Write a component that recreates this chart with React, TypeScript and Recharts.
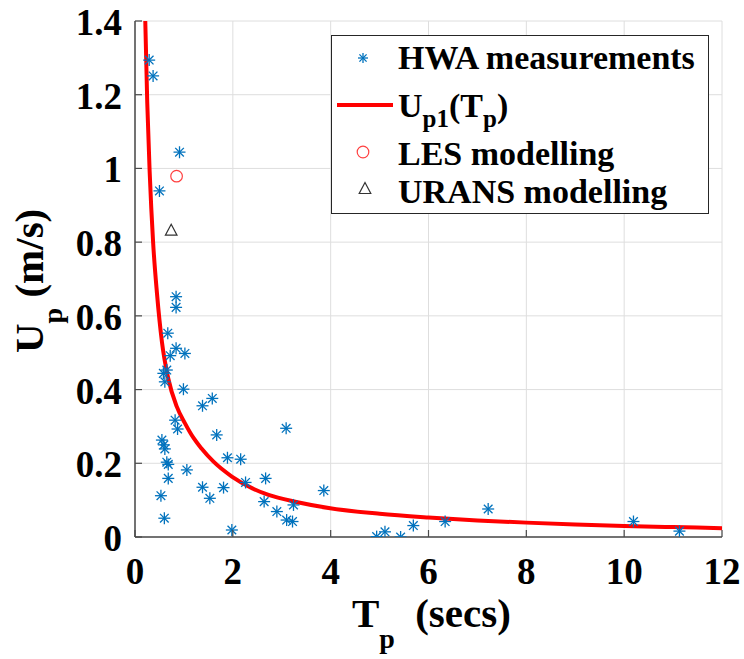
import React from 'react';
import { ComposedChart, Scatter, Line, XAxis, YAxis, CartesianGrid, Legend } from 'recharts';

const FONT = 'Liberation Serif, Tinos, Times New Roman, serif';
const AXIS_COLOR = '#4a4a4a';
const HWA_COLOR = '#0072BD';
const LES_COLOR = '#ff4040';
const URANS_COLOR = '#333333';

const xTicks = [0, 2, 4, 6, 8, 10, 12];
const yTicks = [0, 0.2, 0.4, 0.6, 0.8, 1, 1.2, 1.4];

// Hot-wire anemometry measurements: peak period Tp (s) and peak velocity Up (m/s)
const hwaT = [
  0.29, 0.37, 0.91, 0.5, 0.84, 0.84, 0.67, 0.84, 0.72, 1.02, 0.58, 0.65, 0.61, 0.99,
  1.38, 1.58, 0.82, 0.87, 1.67, 3.09, 0.55, 0.59, 0.61, 0.65, 0.68, 1.06, 1.89, 2.16,
  0.68, 2.26, 2.67, 3.86, 1.38, 1.81, 0.53, 1.53, 2.64, 2.9, 3.24, 3.1, 3.22, 0.6,
  1.98, 4.94, 5.11, 5.43, 5.69, 6.34, 7.22, 10.19, 11.13,
];
const hwaU = [
  1.294, 1.251, 1.044, 0.939, 0.652, 0.623, 0.553, 0.512, 0.492, 0.498, 0.444, 0.453,
  0.421, 0.401, 0.356, 0.376, 0.317, 0.293, 0.277, 0.295, 0.263, 0.25, 0.239, 0.203,
  0.197, 0.182, 0.215, 0.211, 0.159, 0.148, 0.159, 0.126, 0.135, 0.134, 0.112, 0.105,
  0.096, 0.069, 0.087, 0.046, 0.042, 0.051, 0.019, 0.001, 0.014, 0.0, 0.031, 0.042,
  0.076, 0.042, 0.016,
];

const lesT = [0.85];
const lesU = [0.979];

const uransT = [0.74];
const uransU = [0.831];

// Fitted peak velocity curve Up1(Tp)
const fitT = [
  0.21, 0.25, 0.3, 0.37, 0.45, 0.55, 0.68, 0.85, 1.02, 1.2, 1.36, 1.6, 1.98, 2.4, 2.73,
  3.3, 3.99, 5, 6, 7, 8, 9, 10, 11, 12,
];
const fitU = [
  1.4, 1.18, 0.99, 0.8, 0.66, 0.53, 0.43, 0.355, 0.309, 0.268, 0.24, 0.205, 0.164,
  0.132, 0.114, 0.095, 0.078, 0.063, 0.053, 0.045, 0.039, 0.034, 0.03, 0.027, 0.024,
];

const zip = (ts: number[], us: number[]) => ts.map((t, i) => ({ t, u: us[i] }));
const hwaData = zip(hwaT, hwaU);
const lesData = zip(lesT, lesU);
const uransData = zip(uransT, uransU);
const fitData = zip(fitT, fitU);

const Asterisk = ({ cx, cy, r = 6, color = HWA_COLOR }: any) => {
  const d = r * 0.72;
  return (
    <g stroke={color} strokeWidth={1.3} fill="none">
      <line x1={cx - r} y1={cy} x2={cx + r} y2={cy} />
      <line x1={cx} y1={cy - r} x2={cx} y2={cy + r} />
      <line x1={cx - d} y1={cy - d} x2={cx + d} y2={cy + d} />
      <line x1={cx - d} y1={cy + d} x2={cx + d} y2={cy - d} />
    </g>
  );
};

const RingMark = ({ cx, cy }: any) => (
  <circle cx={cx} cy={cy} r={5.8} fill="none" stroke={LES_COLOR} strokeWidth={1.2} />
);

const TriangleMark = ({ cx, cy }: any) => (
  <polygon
    points={`${cx},${cy - 6.5} ${cx - 5.8},${cy + 4.5} ${cx + 5.8},${cy + 4.5}`}
    fill="none"
    stroke={URANS_COLOR}
    strokeWidth={1.2}
  />
);

const textCss = { fontFamily: FONT, fontWeight: 700 } as const;

const BottomTick = ({ x, y, payload }: any) => (
  <g>
    <line x1={x} y1={y} x2={x} y2={y - 7} stroke={AXIS_COLOR} strokeWidth={1.2} />
    <text x={x} y={y + 47} textAnchor="middle" fill="#000" style={{ ...textCss, fontSize: 37 }}>
      {String(payload.value)}
    </text>
  </g>
);

const TopTick = ({ x, y }: any) => (
  <line x1={x} y1={y} x2={x} y2={y + 7} stroke={AXIS_COLOR} strokeWidth={1.2} />
);

const LeftTick = ({ x, y, payload }: any) => (
  <g>
    <line x1={x} y1={y} x2={x + 7} y2={y} stroke={AXIS_COLOR} strokeWidth={1.2} />
    <text x={x - 13} y={y + 14} textAnchor="end" fill="#000" style={{ ...textCss, fontSize: 37 }}>
      {String(payload.value)}
    </text>
  </g>
);

const RightTick = ({ x, y }: any) => (
  <line x1={x} y1={y} x2={x - 7} y2={y} stroke={AXIS_COLOR} strokeWidth={1.2} />
);

const XTitle = ({ viewBox }: any) => {
  const { x, y } = viewBox;
  return (
    <text x={x + 217} y={y + 90} fill="#000" style={{ ...textCss, fontSize: 41 }}>
      <tspan>T</tspan>
      <tspan dy={21} style={{ fontSize: 28 }}>p</tspan>
      <tspan dy={-21} dx={10}> (secs)</tspan>
    </text>
  );
};

const YTitle = ({ viewBox }: any) => {
  const { x, y, height } = viewBox;
  return (
    <text
      transform={`translate(${x + 43}, ${y + height - 184}) rotate(-90)`}
      x={0}
      y={0}
      fill="#000"
      style={{ ...textCss, fontSize: 41 }}
    >
      <tspan>U</tspan>
      <tspan dy={19} style={{ fontSize: 28 }}>p</tspan>
      <tspan dy={-19}> (m/s)</tspan>
    </text>
  );
};

const LegendBox = () => {
  const css = { ...textCss, fontSize: 34 };
  return (
    <svg width={378} height={179} style={{ display: 'block' }}>
      <rect x={0.5} y={0.5} width={377} height={178} fill="#fff" stroke="#262626" strokeWidth={1} />
      <Asterisk cx={32} cy={23} r={5} />
      <text x={67} y={34} fill="#000" style={css}>HWA measurements</text>
      <line x1={6} y1={70} x2={62} y2={70} stroke="#ff0000" strokeWidth={4} />
      <text x={67} y={82} fill="#000" style={css}>
        <tspan>U</tspan>
        <tspan dy={10} style={{ fontSize: 25 }}>p1</tspan>
        <tspan dy={-10}>(T</tspan>
        <tspan dy={10} style={{ fontSize: 25 }}>p</tspan>
        <tspan dy={-10}>)</tspan>
      </text>
      <RingMark cx={32} cy={117} />
      <text x={67} y={130} fill="#000" style={css}>LES modelling</text>
      <TriangleMark cx={34} cy={154} />
      <text x={67} y={168} fill="#000" style={css}>URANS modelling</text>
    </svg>
  );
};

export default function App() {
  return (
    <div style={{ position: 'absolute', left: 0, top: 0, background: '#fff' }}>
      <ComposedChart
        width={744}
        height={659}
        margin={{ top: 21, right: 22, left: 0, bottom: 0 }}
        style={{ background: '#fff' }}
      >
        <CartesianGrid stroke="#dedede" strokeWidth={1} />
        <XAxis
          dataKey="t"
          type="number"
          domain={[0, 12]}
          ticks={xTicks}
          interval={0}
          height={122}
          tickSize={0}
          tickMargin={0}
          tick={<BottomTick />}
          axisLine={{ stroke: AXIS_COLOR, strokeWidth: 1.5 }}
          label={<XTitle />}
        />
        <XAxis
          xAxisId="top"
          orientation="top"
          type="number"
          domain={[0, 12]}
          ticks={xTicks}
          interval={0}
          height={0}
          tickSize={0}
          tickMargin={0}
          tick={<TopTick />}
          axisLine={{ stroke: AXIS_COLOR, strokeWidth: 1.5 }}
        />
        <YAxis
          type="number"
          domain={[0, 1.4]}
          ticks={yTicks}
          interval={0}
          width={135}
          tickSize={0}
          tickMargin={0}
          tick={<LeftTick />}
          allowDataOverflow
          axisLine={{ stroke: AXIS_COLOR, strokeWidth: 1.5 }}
          label={<YTitle />}
        />
        <YAxis
          yAxisId="right"
          orientation="right"
          type="number"
          domain={[0, 1.4]}
          ticks={yTicks}
          interval={0}
          width={0}
          tickSize={0}
          tickMargin={0}
          tick={<RightTick />}
          axisLine={{ stroke: AXIS_COLOR, strokeWidth: 1.5 }}
        />
        <Scatter name="HWA measurements" data={hwaData} dataKey="u" shape={<Asterisk />} isAnimationActive={false} />
        <Line
          name="Up1(Tp)"
          data={fitData}
          dataKey="u"
          type="monotone"
          stroke="#ff0000"
          strokeWidth={4}
          dot={false}
          activeDot={false}
          isAnimationActive={false}
        />
        <Scatter name="LES modelling" data={lesData} dataKey="u" shape={<RingMark />} isAnimationActive={false} />
        <Scatter name="URANS modelling" data={uransData} dataKey="u" shape={<TriangleMark />} isAnimationActive={false} />
        <Legend
          layout="vertical"
          align="center"
          verticalAlign="middle"
          content={<LegendBox />}
          wrapperStyle={{ left: 331, top: 35, width: 378, height: 179 }}
        />
      </ComposedChart>
    </div>
  );
}
